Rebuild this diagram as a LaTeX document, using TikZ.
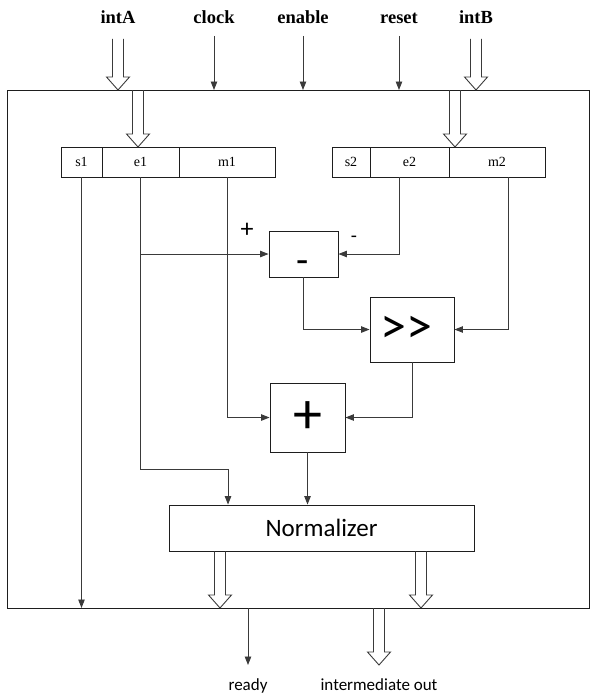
\documentclass[tikz,border=0pt]{standalone}
\usepackage{fontspec}
\setmainfont{Liberation Serif}
\newfontfamily\calib{Carlito}
\usetikzlibrary{positioning,arrows.meta,calc}
\definecolor{Wire}{HTML}{3A3A3A}
\definecolor{Edge}{HTML}{1E1E1E}
\newcommand{\busarrow}[2]{%
  \draw[bus] let \p1=(#1), \p2=(#2) in
    (\x1-5.5pt,\y1) -- (\x1-5.5pt,\y2+13pt) -- (\x1-11.5pt,\y2+13pt)
    -- (\x1,\y2) -- (\x1+11.5pt,\y2+13pt) -- (\x1+5.5pt,\y2+13pt) -- (\x1+5.5pt,\y1);}

\begin{document}
\begin{tikzpicture}[x=1pt,y=-1pt,
    chip/.style={draw=Edge,line width=1pt,inner sep=0pt,outer sep=0pt},
    cell/.style={draw=Edge,line width=0.9pt,minimum height=30pt,inner sep=0pt,outer sep=0pt,
                 font=\fontsize{14}{14}\selectfont},
    opbox/.style={draw=Edge,line width=0.9pt,inner sep=0pt,font=\calib},
    toplbl/.style={font=\bfseries\fontsize{18.5}{18.5}\selectfont,anchor=base,inner sep=0pt},
    outlbl/.style={font=\calib\fontsize{17}{17}\selectfont,anchor=base,inner sep=0pt},
    sig/.style={draw=Wire,line width=0.9pt,-{Triangle[length=8.5pt,width=6.5pt]}},
    bus/.style={draw=Wire,line width=0.9pt,line join=miter}
  ]
    \useasboundingbox (0,0) rectangle (591,693);
    \node[chip,minimum width=582.5pt,minimum height=518pt] (chip) at (298.25,349) {};

    \node[toplbl] (inA) at (118,24) {intA};
    \node[toplbl] (clk) at (214,24) {clock};
    \node[toplbl] (en)  at (303,24) {enable};
    \node[toplbl] (rst) at (399,24) {reset};
    \node[toplbl] (inB) at (476,24) {intB};
    \busarrow{[yshift=-15pt]inA.base}{chip.north}
    \busarrow{[yshift=-15pt]inB.base}{chip.north}
    \draw[sig] ([yshift=-12pt]clk.base) -- (clk.base |- chip.north);
    \draw[sig] ([yshift=-12pt]en.base) -- (en.base |- chip.north);
    \draw[sig] ([yshift=-12pt]rst.base) -- (rst.base |- chip.north);

    \node[cell,minimum width=41pt] (s1) at (81.5,162) {s1};
    \node[cell,minimum width=77pt,right=0pt of s1] (e1) {e1};
    \node[cell,minimum width=96pt,right=0pt of e1] (m1) {m1};
    \node[cell,minimum width=38pt] (s2) at (351,162) {s2};
    \node[cell,minimum width=79pt,right=0pt of s2] (e2) {e2};
    \node[cell,minimum width=96pt,right=0pt of e2] (m2) {m2};
    \coordinate (busA) at (138,90);
    \coordinate (busB) at (455,90);
    \busarrow{busA}{e1.north}
    \busarrow{busB}{m2.north}

    \node[opbox,minimum width=69pt,minimum height=46pt] (sub) at (303.5,254) {};
    \node[font=\calib\fontsize{40}{40}\selectfont,inner sep=0pt] (subsym) at (303,267.5) {-};
    \node[opbox,minimum width=84pt,minimum height=65pt,font=\calib\fontsize{52}{52}\selectfont]
        (shr) at (412,329.5) {>\kern0pt>\kern12pt};
    \node[opbox,minimum width=75pt,minimum height=69pt,font=\calib\fontsize{58}{58}\selectfont]
        (add) at (307.5,417.5) {+};
    \node[opbox,minimum width=305pt,minimum height=46pt,font=\calib\fontsize{25}{25}\selectfont]
        (norm) at (321.5,528) {Normalizer};
    \node[font=\calib\fontsize{26}{26}\selectfont,inner sep=0pt] (pl) at (247,230) {+};
    \node[font=\calib\fontsize{20}{20}\selectfont,inner sep=0pt] (mi) at (354,239) {-};

    \coordinate (eturn) at (228,469);
    \draw[sig] (s1.south) -- (s1.south |- chip.south);
    \draw[sig] (e1.south) |- (eturn) -- (eturn |- norm.north);
    \draw[sig] (e1.south |- sub.west) -- (sub.west);
    \draw[sig] (m1.south) |- (add.west);
    \draw[sig] ([xshift=-10.5pt]e2.south) |- (sub.east);
    \draw[sig] ([xshift=11pt]m2.south) |- (shr.east);
    \draw[sig] (sub.south) |- (shr.west);
    \draw[sig] (shr.south) |- (add.east);
    \draw[sig] (add.south) -- (add.south |- norm.north);

    \busarrow{[xshift=-101.5pt]norm.south}{chip.south}
    \busarrow{[xshift=99.5pt]norm.south}{chip.south}
    \node[outlbl] (rdy) at (248,690) {ready};
    \node[outlbl] (iout) at (379,690) {intermediate out};
    \coordinate (rdyTip) at (248,665);
    \coordinate (ioutTip) at (379,665);
    \draw[sig] (rdyTip |- chip.south) -- (rdyTip);
    \busarrow{ioutTip |- chip.south}{ioutTip}
  \end{tikzpicture}
\end{document}
